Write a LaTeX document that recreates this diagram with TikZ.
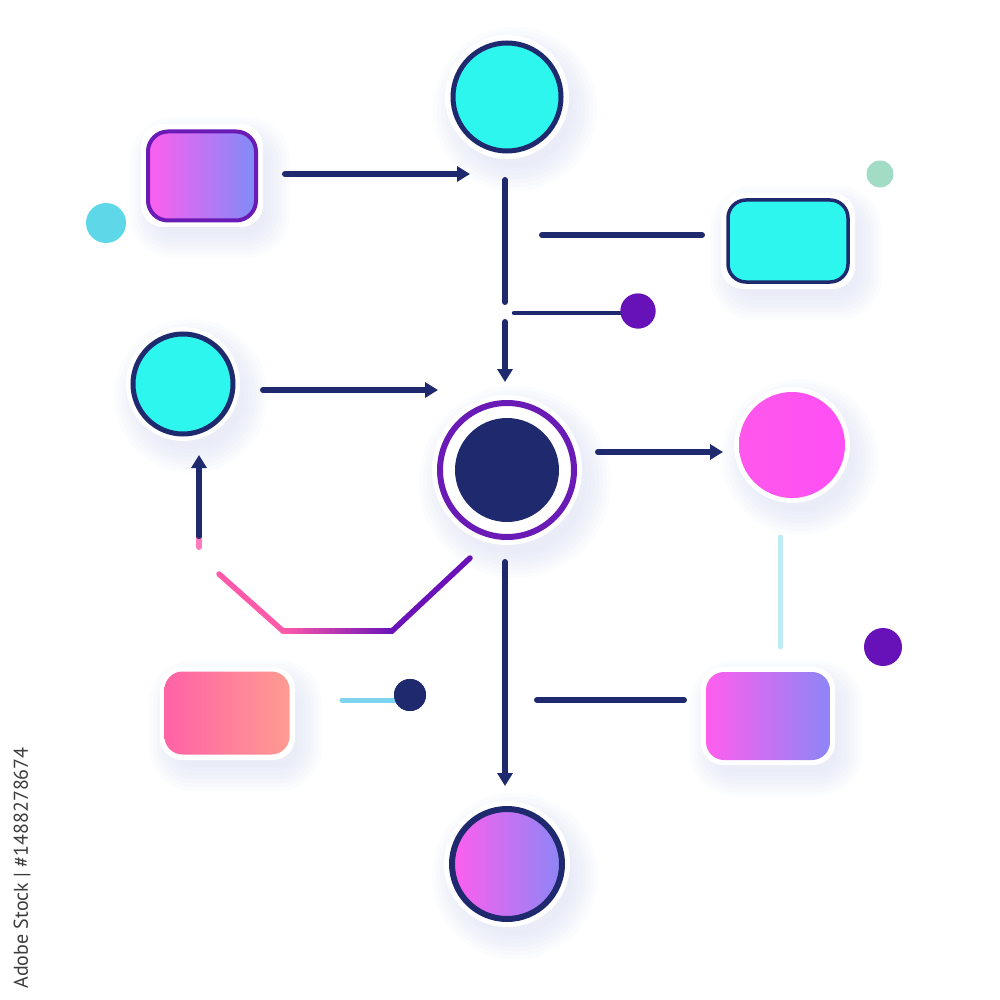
\documentclass[tikz,border=0pt]{standalone}
\usepackage{fontspec}
\setsansfont{PT Sans}
\usetikzlibrary{arrows.meta,calc}
\definecolor{navy}{HTML}{1F2A6E}
\definecolor{cyanf}{HTML}{2DF6EE}
\definecolor{purp}{HTML}{6A1AB5}
\definecolor{dotpurp}{HTML}{6612B8}
\definecolor{pinkA}{HTML}{FF5EEE}
\definecolor{blueA}{HTML}{7E8CF7}
\definecolor{blueB}{HTML}{8C86F6}
\definecolor{pinkC}{HTML}{FF58EC}
\definecolor{pinkD}{HTML}{FF4FF5}
\definecolor{coralA}{HTML}{FF62A6}
\definecolor{coralB}{HTML}{FF9B91}
\definecolor{dotcyan}{HTML}{5ED8E8}
\definecolor{dotgreen}{HTML}{A2DCC5}
\definecolor{palecyan}{HTML}{BDEBF6}
\definecolor{skyline}{HTML}{7DD3F0}
\definecolor{polypink}{HTML}{FF5AAA}
\definecolor{polypurp}{HTML}{6A12B8}
\definecolor{shadowc}{HTML}{D9DFF6}
\definecolor{markgray}{HTML}{3C3C3C}
\tikzset{
  conn/.style={draw=navy, line width=6pt, line cap=round},
  arr/.style={conn, -{Triangle[length=13pt,width=15pt]}},
  ringc/.style={circle, inner sep=0pt},
  rbox/.style={rectangle, inner sep=0pt, rounded corners=18pt},
}
\newcommand{\softshadow}[3]{%
  \foreach \k in {0,...,6}{\fill[shadowc, opacity=0.09, shift={(8,12)}] (#1,#2) circle [radius=#3+4*\k];}}
\newcommand{\softboxshadow}[4]{%
  \foreach \k in {0,...,6}{\fill[shadowc, opacity=0.09, shift={(8,12)}, rounded corners=20pt+4*\k] (#1-4*\k,#2-4*\k) rectangle (#3+4*\k,#4+4*\k);}}
\begin{document}
\begin{tikzpicture}[x=1pt,y=-1pt]
\useasboundingbox (0,0) rectangle (1000,1000);
\fill[white] (0,0) rectangle (1000,1000);
% soft shadows
\softshadow{507}{97}{58}
\softboxshadow{146}{129}{258}{222}
\softboxshadow{726}{198}{850}{284}
\softshadow{183}{384}{53}
\softshadow{507}{470}{72}
\softshadow{792}{445}{54}
\softboxshadow{706}{672}{830}{760}
\softboxshadow{165}{672}{290}{755}
\softshadow{507}{864}{59}
% white halos
\fill[white] (507,97) circle [radius=62];
\fill[white] (183,384) circle [radius=57];
\fill[white] (507,470) circle [radius=75];
\fill[white] (792,445) circle [radius=58];
\fill[white] (507,864) circle [radius=63];
\fill[white, rounded corners=22pt] (141,124) rectangle (263,227);
\fill[white, rounded corners=22pt] (721,193) rectangle (855,289);
\fill[white, rounded corners=22pt] (701,667) rectangle (835,765);
\fill[white, rounded corners=22pt] (160,667) rectangle (295,760);
% nodes
\node[ringc, minimum size=108pt, fill=cyanf, draw=navy, line width=5pt] (ctop) at (507,97) {};
\node[rbox, rounded corners=20pt, minimum width=108pt, minimum height=89pt, left color=pinkA, right color=blueA, draw=purp, line width=4pt] (rtl) at (202,176) {};
\node[ringc, minimum size=40pt, fill=dotcyan] (dcy) at (106,223) {};
\node[rbox, minimum width=120pt, minimum height=82pt, fill=cyanf, draw=navy, line width=3.5pt] (rcy) at (788,241) {};
\node[ringc, minimum size=27pt, fill=dotgreen] (dgr) at (880,174) {};
\node[ringc, minimum size=35pt, fill=dotpurp] (dpu1) at (638,311) {};
\node[ringc, minimum size=100pt, fill=cyanf, draw=navy, line width=5pt] (cleft) at (183,384) {};
\node[ringc, minimum size=134pt, fill=white, draw=purp, line width=6pt] (ring) at (507,470) {};
\node[ringc, minimum size=104pt, fill=navy] (core) at (507,470) {};
\node[ringc, minimum size=106pt, left color=pinkC, right color=pinkD] (cpink) at (792,445) {};
\node[ringc, minimum size=38pt, fill=dotpurp] (dpu2) at (883,647) {};
\node[rbox, minimum width=124pt, minimum height=88pt, left color=pinkA, right color=blueB] (rbr) at (768,716) {};
\node[rbox, minimum width=125pt, minimum height=83pt, left color=coralA, right color=coralB] (rbl) at (227,713) {};
\node[ringc, minimum size=32pt, fill=navy] (dnv) at (410,695) {};
\node[ringc, minimum size=110pt, left color=pinkA, right color=blueB, draw=navy, line width=6pt] (cbot) at (507,864) {};
% connector end points
\coordinate (a1s) at (285,174); \coordinate (a1e) at (470,174);
\coordinate (l1s) at (505,180); \coordinate (l1e) at (505,302);
\coordinate (l2s) at (542,235); \coordinate (l2e) at (702,235);
\coordinate (l3s) at (514,313);
\coordinate (a2s) at (505,322); \coordinate (a2e) at (505,382);
\coordinate (a3s) at (263,390); \coordinate (a3e) at (438,390);
\coordinate (a4s) at (598,452); \coordinate (a4e) at (723,452);
\coordinate (l4s) at (780,537); \coordinate (l4e) at (780,647);
\coordinate (a5p) at (199,547); \coordinate (a5s) at (199,536); \coordinate (a5e) at (199,455);
\coordinate (p1) at (219,574); \coordinate (p2) at (283,631); \coordinate (p3) at (392,631); \coordinate (p4) at (470,558);
\coordinate (a6s) at (505,562); \coordinate (a6e) at (505,786);
\coordinate (l5s) at (537,700); \coordinate (l5e) at (684,700);
\coordinate (l6s) at (342,700);
% connectors
\draw[arr] (a1s) -- (a1e);
\draw[conn] (l1s) -- (l1e);
\draw[conn] (l2s) -- (l2e);
\draw[conn, line width=4.5pt] (l3s) -- (l3s -| dpu1.center);
\node[ringc, minimum size=35pt, fill=dotpurp] at (dpu1) {};
\draw[arr] (a2s) -- (a2e);
\draw[arr] (a3s) -- (a3e);
\draw[arr] (a4s) -- (a4e);
\draw[palecyan, line width=5pt, line cap=round] (l4s) -- (l4e);
\draw[polypink!80!white, line width=6pt, line cap=round] (a5p) -- (a5s);
\draw[arr] (a5s) -- (a5e);
\foreach \i in {0,...,19}{
  \pgfmathsetmacro{\pc}{100-\i*5}
  \pgfmathsetmacro{\ta}{\i/20}
  \pgfmathsetmacro{\tb}{(\i+1)/20}
  \draw[polypink!\pc!polypurp, line width=5.5pt, line cap=round, line join=round]
    ($(p2)!\ta!(p3)$) -- ($(p2)!\tb!(p3)$);
}
\draw[polypink, line width=5.5pt, line cap=round] (p1) -- (p2);
\draw[polypurp, line width=5.5pt, line cap=round] (p3) -- (p4);
\draw[arr] (a6s) -- (a6e);
\draw[conn] (l5s) -- (l5e);
\draw[skyline, line width=5pt, line cap=round] (l6s) -- (l6s -| dnv.center);
\node[ringc, minimum size=32pt, fill=navy] at (dnv) {};
% stock mark text
\node[rotate=90, inner sep=0pt, text=markgray, font=\sffamily\fontsize{20}{20}\selectfont] (mark) at (22,868) {Adobe Stock | \#1488278674};
\end{tikzpicture}
\end{document}
